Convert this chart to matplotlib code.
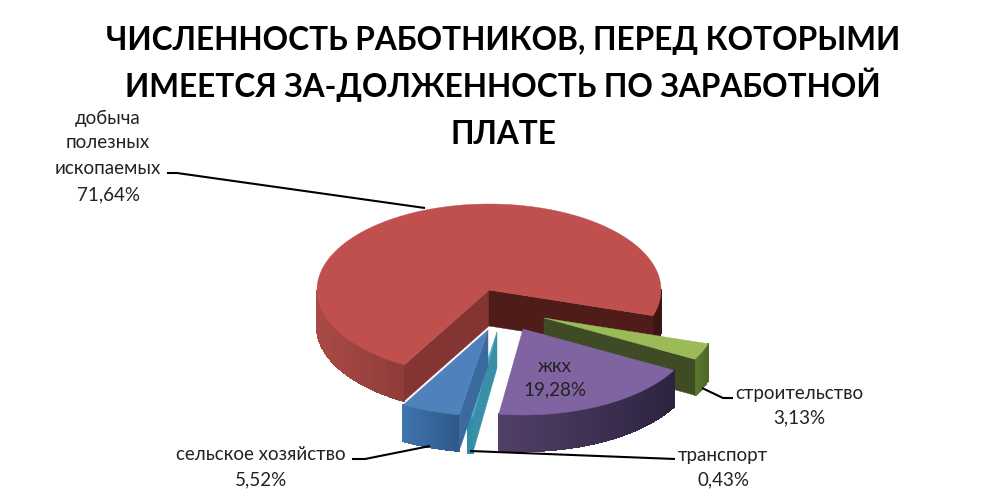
# -*- coding: utf-8 -*-
# exploded 3d-looking pie, drawn by hand since matplotlib pie is flat
import numpy as np
import matplotlib
matplotlib.use('Agg')
import matplotlib.pyplot as plt

names = ['добыча полезных ископаемых', 'строительство', 'жкх', 'транспорт', 'сельское хозяйство']
shares = [71.64, 3.13, 19.28, 0.43, 5.52]
share_labels = ['71,64%', '3,13%', '19,28%', '0,43%', '5,52%']

title_lines = ['ЧИСЛЕННОСТЬ РАБОТНИКОВ, ПЕРЕД КОТОРЫМИ',
               'ИМЕЕТСЯ ЗА-ДОЛЖЕННОСТЬ ПО ЗАРАБОТНОЙ',
               'ПЛАТЕ']

# pie geometry in pixels
rx, ry, depth = 172, 86, 36
start_angle = -119.5
centers = [(489, 290), (544, 318), (523, 329), (497, 332), (488, 330)]
top_colors = ['#c0504d', '#9bbb59', '#8064a2', '#4bacc6', '#4f81bd']
# outer wall colours, left to right
wall_left = ['#aa4a46', '#5f7a30', '#523f68', '#2f8fa6', '#3f74ae']
wall_right = ['#3c1614', '#4f6a28', '#2d2440', '#2f8fa6', '#30598a']
# cut faces: which side shows and its colour
cut_faces = {0: [(-119.5, '#843533'), (-377.4, '#4f1c1a')],
             1: [(-28.67, '#3e4b24')],
             3: [(-98.08, '#3a8fa8')],
             4: [(-99.63, '#3a6a9f')]}


def hex2rgb(c):
    return np.array(matplotlib.colors.to_rgb(c))


def point(c, t):
    t = np.radians(t)
    return c[0] + rx * np.cos(t), c[1] - ry * np.sin(t)


fig = plt.figure(figsize=(10.08, 4.99), dpi=100)
ax = fig.add_axes([0, 0, 1, 1])
ax.set_xlim(0, 1008)
ax.set_ylim(499, 0)
ax.axis('off')

angle = start_angle
for i in range(len(shares)):
    hi = angle
    lo = angle - shares[i] * 3.6
    angle = lo
    c = centers[i]
    t = np.linspace(lo, hi, int((hi - lo) * 2) + 2)
    mids = (t[:-1] + t[1:]) / 2
    vis = np.sin(np.radians(mids)) < 0
    cmin, cmax = np.cos(np.radians(mids[vis])).min(), np.cos(np.radians(mids[vis])).max()
    # outer wall, only the part facing us
    for a, b, m, v in zip(t[:-1], t[1:], mids, vis):
        if not v:
            continue
        x1, y1 = point(c, a)
        x2, y2 = point(c, b)
        k = (np.cos(np.radians(m)) - cmin) / max(cmax - cmin, 1e-6)
        col = hex2rgb(wall_left[i]) * (1 - k) + hex2rgb(wall_right[i]) * k
        ax.fill([x1, x2, x2, x1], [y1, y2, y2 + depth, y1 + depth], color=col, lw=1, antialiased=False)
    # cut faces
    for th, col in cut_faces.get(i, []):
        x, y = point(c, th)
        ax.fill([c[0], x, x, c[0]], [c[1], y, y + depth, c[1] + depth], color=col, lw=0.3)
    # top
    xs, ys = point(c, t)
    ax.fill(np.r_[c[0], xs], np.r_[c[1], ys], color=top_colors[i], lw=0.3)

# leader lines
leaders = [([167, 177, 425], [173, 173, 208]),
           ([702, 723, 733], [388, 398, 398]),
           ([470, 675], [451, 459]),
           ([352, 365, 430], [459, 459, 446])]
for lx, ly in leaders:
    ax.plot(lx, ly, color='black', lw=1.5, solid_capstyle='butt')

label_font = {'family': ['Lato', 'Open Sans'], 'size': 13.5, 'color': '#222222',
              'ha': 'center', 'va': 'center'}
ax.text(108, 118, 'добыча', **label_font)
ax.text(108, 143, 'полезных', **label_font)
ax.text(108, 169, 'ископаемых', **label_font)
ax.text(108, 195, share_labels[0], **label_font)
ax.text(799, 393, names[1], **label_font)
ax.text(799, 418, share_labels[1], **label_font)
ax.text(555, 366, names[2], **label_font)
ax.text(555, 390, share_labels[2], **label_font)
ax.text(723, 455, names[3], **label_font)
ax.text(723, 480, share_labels[3], **label_font)
ax.text(261, 455, names[4], **label_font)
ax.text(261, 480, share_labels[4], **label_font)

title_y = [50, 97, 144]
for line, y in zip(title_lines, title_y):
    ax.text(503, y, line, family=['Lato', 'Open Sans'], weight='bold', size=22.8,
            color='black', ha='center', va='baseline')

fig.savefig('out.png', dpi=100)
